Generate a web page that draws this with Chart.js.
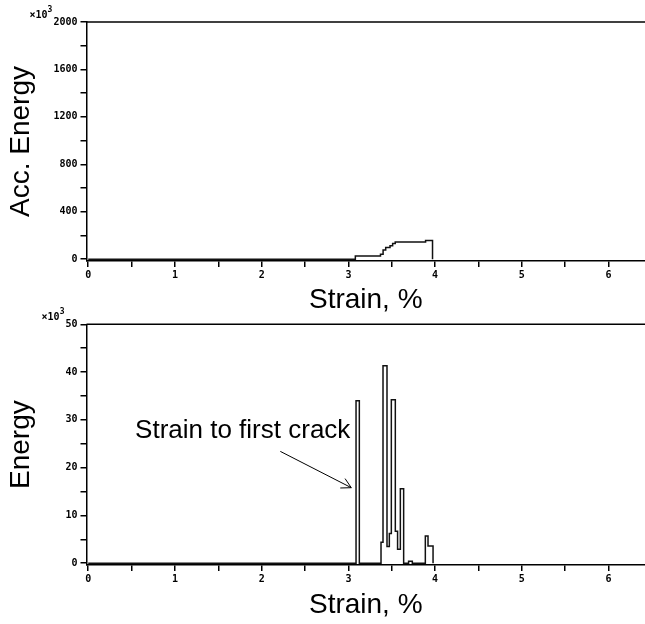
<!DOCTYPE html>
<html lang="en">

<head>
    <meta charset="UTF-8">
    <title>Acc. Energy and Energy vs Strain</title>
    <script src="https://cdn.jsdelivr.net/npm/chart.js"></script>

    <style>
        body {
            margin: 0;
            padding: 0;
            background-color: #fff;
        }

        #wrap {
            position: relative;
            width: 645px;
            height: 624px;
        }

        canvas {
            position: absolute;
            left: 0;
        }

        #accChart {
            top: 0;
        }

        #energyChart {
            top: 300px;
        }
    </style>
</head>

<body>
    <div id="wrap">
        <canvas id="accChart" width="645" height="312"></canvas>
        <canvas id="energyChart" width="645" height="324"></canvas>
    </div>

    <script>
        // accumulated energy (x10^3); each value holds until the next strain
        const accStrain = [0, 3.08, 3.37, 3.40, 3.43, 3.48, 3.51, 3.54, 3.89, 3.97];
        const accEnergy = [0, 28, 42, 78, 99, 113, 132, 146, 158, 0];

        // energy per hit (x10^3)
        const hitStrain = [0, 3.088, 3.126, 3.376, 3.399, 3.445, 3.472, 3.495, 3.541, 3.567, 3.599, 3.637, 3.694, 3.737, 3.887, 3.918, 3.976];
        const hitEnergy = [0, 34, 0, 4.4, 41.3, 3.5, 6.2, 34.2, 6.7, 2.9, 15.6, 0, 0.4, 0, 5.7, 3.6, 0];

        const strainTicks = [0, 0.5, 1, 1.5, 2, 2.5, 3, 3.5, 4, 4.5, 5, 5.5, 6];
        const accTicks = [0, 200, 400, 600, 800, 1000, 1200, 1400, 1600, 1800, 2000];
        const energyTicks = [0, 5, 10, 15, 20, 25, 30, 35, 40, 45, 50];

        const noteText = 'Strain to first crack';
        const noteAt = [0.54, 26.2];      // strain, energy
        const arrowFrom = [2.215, 23.4];
        const arrowTo = [3.033, 15.8];

        const TICK_FONT = { family: '"DejaVu Sans Mono", monospace', size: 10, weight: 'bold' };
        const TITLE_FONT = { family: '"Liberation Sans", Arial, sans-serif', size: 28, lineHeight: 1.2 };

        const frameAndUnit = {
            id: 'frameAndUnit',
            afterDraw(chart) {
                const { ctx, chartArea } = chart;
                ctx.save();
                ctx.strokeStyle = '#000';
                ctx.lineWidth = 1.5;
                ctx.beginPath();
                ctx.moveTo(chartArea.left, chartArea.top);
                ctx.lineTo(chartArea.right, chartArea.top);
                ctx.stroke();

                // x10^3 just left of the top tick label
                ctx.fillStyle = '#000';
                ctx.textAlign = 'right';
                ctx.textBaseline = 'alphabetic';
                ctx.font = 'bold 10px "DejaVu Sans Mono", monospace';
                const topLabel = String(chart.scales.y.max);
                let xr = chartArea.left - 9 - ctx.measureText(topLabel).width - 1;
                const base = chartArea.top - 4.5;
                ctx.font = 'bold 8px "DejaVu Sans Mono", monospace';
                ctx.fillText('3', xr, base - 6);
                xr -= ctx.measureText('3').width;
                ctx.font = 'bold 10px "DejaVu Sans Mono", monospace';
                ctx.fillText('\u00d710', xr, base);
                ctx.restore();
            }
        };

        const crackNote = {
            id: 'crackNote',
            afterDraw(chart) {
                const { ctx } = chart;
                const { x, y } = chart.scales;
                ctx.save();
                ctx.fillStyle = '#000';
                ctx.font = '26px "Liberation Sans", Arial, sans-serif';
                ctx.textBaseline = 'alphabetic';
                ctx.fillText(noteText, x.getPixelForValue(noteAt[0]), y.getPixelForValue(noteAt[1]));

                const x1 = x.getPixelForValue(arrowFrom[0]);
                const y1 = y.getPixelForValue(arrowFrom[1]);
                const x2 = x.getPixelForValue(arrowTo[0]);
                const y2 = y.getPixelForValue(arrowTo[1]);
                const ang = Math.atan2(y2 - y1, x2 - x1);
                ctx.strokeStyle = '#000';
                ctx.lineWidth = 1;
                ctx.beginPath();
                ctx.moveTo(x1, y1);
                ctx.lineTo(x2, y2);
                ctx.moveTo(x2 - 11 * Math.cos(ang - 0.5), y2 - 11 * Math.sin(ang - 0.5));
                ctx.lineTo(x2, y2);
                ctx.lineTo(x2 - 11 * Math.cos(ang + 0.5), y2 - 11 * Math.sin(ang + 0.5));
                ctx.stroke();
                ctx.restore();
            }
        };

        function makeChart(id, xs, ys, yTicks, yMin, labelEvery, yTitle, padTop, xHeight, titlePad, plugins) {
            const ctx = document.getElementById(id).getContext('2d');
            return new Chart(ctx, {
                type: 'line',
                data: {
                    datasets: [{
                        data: xs.map((s, i) => ({ x: s, y: ys[i] })),
                        stepped: 'before',
                        borderColor: '#111',
                        borderWidth: 1.5,
                        pointRadius: 0,
                        fill: false
                    }]
                },
                options: {
                    responsive: false,
                    animation: false,
                    layout: { padding: { top: padTop, right: 0, left: 0, bottom: 0 } },
                    plugins: { legend: { display: false }, tooltip: { enabled: false } },
                    scales: {
                        x: {
                            type: 'linear',
                            min: -0.02,
                            max: 6.42,
                            afterBuildTicks: (axis) => { axis.ticks = strainTicks.map(v => ({ value: v })); },
                            afterFit: (axis) => { axis.height = xHeight; },
                            ticks: {
                                autoSkip: false,
                                maxRotation: 0,
                                padding: 2,
                                color: '#000',
                                font: TICK_FONT,
                                callback: (v) => Number.isInteger(v) ? String(v) : ''
                            },
                            grid: { drawOnChartArea: false, tickLength: 6, color: '#000', lineWidth: 1.5 },
                            border: { color: '#000', width: 1.5 },
                            title: {
                                display: true,
                                text: 'Strain, %',
                                color: '#000',
                                font: TITLE_FONT,
                                padding: { top: 0, bottom: titlePad }
                            }
                        },
                        y: {
                            min: yMin,
                            max: yTicks[yTicks.length - 1],
                            afterBuildTicks: (axis) => { axis.ticks = yTicks.map(v => ({ value: v })); },
                            afterFit: (axis) => { axis.width = 86.5; },
                            ticks: {
                                autoSkip: false,
                                padding: 3,
                                color: '#000',
                                font: TICK_FONT,
                                callback: (v) => v % labelEvery === 0 ? String(v) : ''
                            },
                            grid: { drawOnChartArea: false, tickLength: 6, color: '#000', lineWidth: 1.5 },
                            border: { color: '#000', width: 1.5 },
                            title: {
                                display: true,
                                text: yTitle,
                                color: '#000',
                                font: TITLE_FONT,
                                padding: { top: 4.5, bottom: 0 }
                            }
                        }
                    }
                },
                plugins: plugins
            });
        }

        makeChart('accChart', accStrain, accEnergy, accTicks, -15, 400, 'Acc. Energy', 22, 51, -5, [frameAndUnit]);
        makeChart('energyChart', hitStrain, hitEnergy, energyTicks, -0.38, 10, 'Energy', 24.3, 59, 2, [frameAndUnit, crackNote]);
    </script>
</body>

</html>
